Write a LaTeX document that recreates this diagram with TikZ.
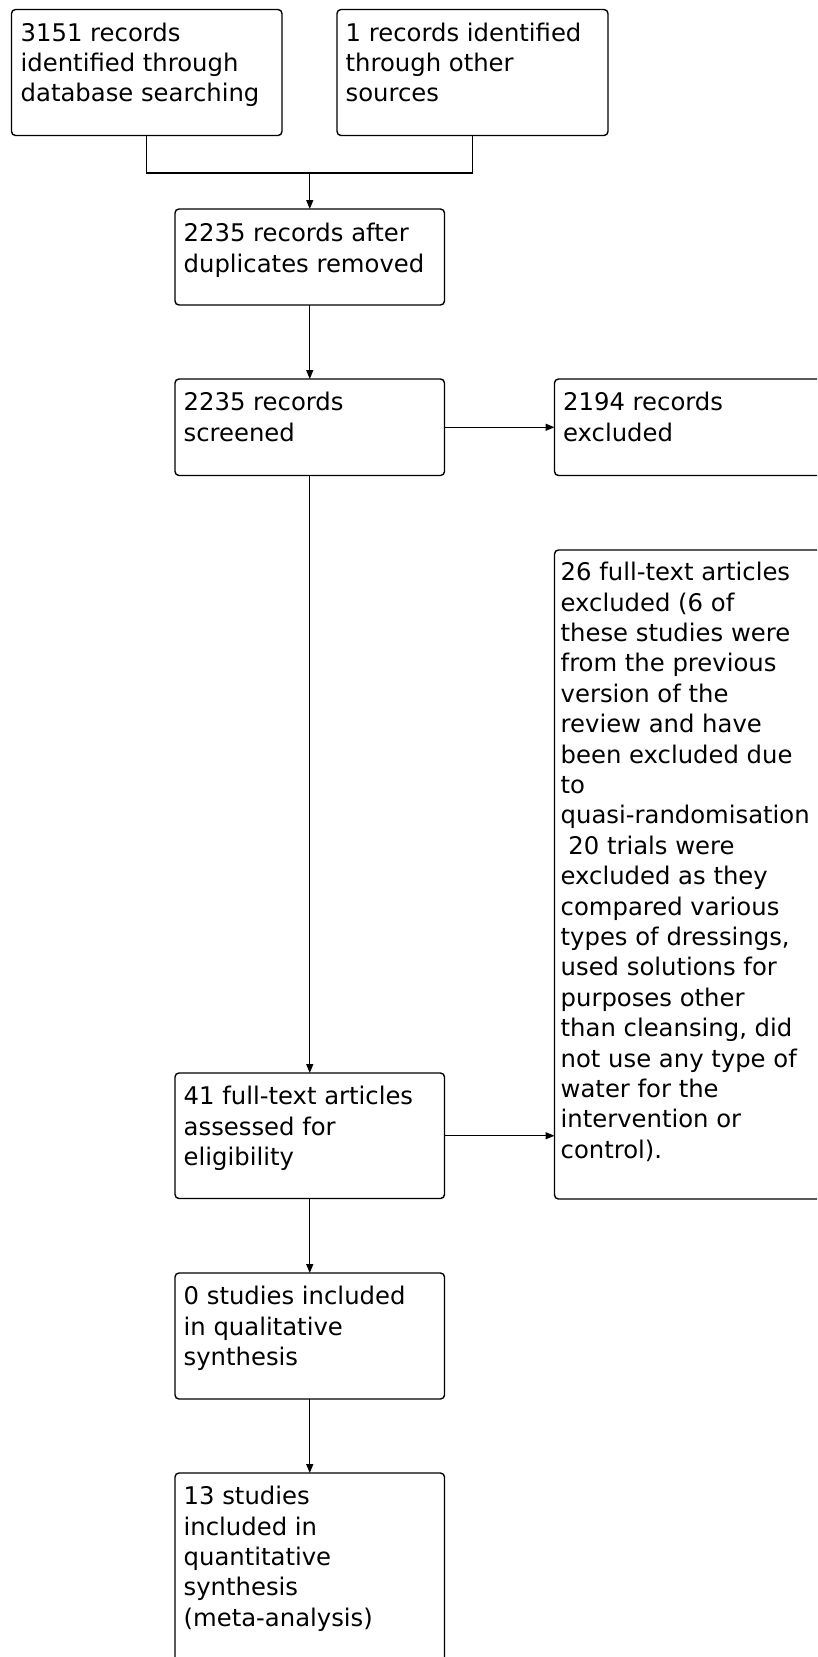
\documentclass[tikz,border=0pt]{standalone}
\usepackage{fontspec}
\setmainfont{DejaVu Sans}
\usetikzlibrary{arrows.meta,calc}
\begin{document}
\begin{tikzpicture}[x=1pt,y=-1pt,
  box/.style={draw, rounded corners=4pt, line width=1.4pt, inner sep=0pt, outer sep=0pt, anchor=north west},
  txt/.style={anchor=north west, inner sep=0pt, align=left, font=\fontsize{24.3}{30.4}\selectfont},
  arr/.style={-{Triangle[length=9pt,width=7pt]}, line width=1.4pt},
  link/.style={line width=1.4pt}]
\useasboundingbox (0,0) rectangle (817,1657);
\clip (0,0) rectangle (817,1657);
\fill[white] (0,0) rectangle (817,1657);
% boxes
\node[box, minimum width=270.5pt, minimum height=126pt] (b1) at (11.5,9.5) {};
\node[box, minimum width=271pt, minimum height=126pt] (b2) at (337,9.5) {};
\node[box, minimum width=269.5pt, minimum height=96pt] (b3) at (175,209) {};
\node[box, minimum width=269.5pt, minimum height=96.5pt] (b4) at (175,379) {};
\node[box, minimum width=270.5pt, minimum height=96.5pt] (b5) at (554.5,379) {};
\node[box, minimum width=270.5pt, minimum height=649pt] (b6) at (554.5,550) {};
\node[box, minimum width=269.5pt, minimum height=125.5pt] (b7) at (175,1073) {};
\node[box, minimum width=269.5pt, minimum height=126pt] (b8) at (175,1273) {};
\node[box, minimum width=269.5pt, minimum height=217pt] (b9) at (175,1473) {};
% texts
\node[txt] (t1) at ($(b1.north west)+(9,13)$) {3151 records\\identified through\\database searching};
\node[txt] (t2) at ($(b2.north west)+(8.5,13)$) {1 records identified\\through other\\sources};
\node[txt] (t3) at ($(b3.north west)+(8.5,14)$) {2235 records after\\duplicates removed};
\node[txt] (t4) at ($(b4.north west)+(8.5,13)$) {2235 records\\screened};
\node[txt] (t5) at ($(b5.north west)+(8.5,13)$) {2194 records\\excluded};
\node[txt] (t6) at ($(b6.north west)+(6,12)$) {26 full-text articles\\excluded (6 of\\these studies were\\from the previous\\version of the\\review and have\\been excluded due\\to\\quasi-randomisation\\\ 20 trials were\\excluded as they\\compared various\\types of dressings,\\used solutions for\\purposes other\\than cleansing, did\\not use any type of\\water for the\\intervention or\\control).};
\node[txt] (t7) at ($(b7.north west)+(8.5,13)$) {41 full-text articles\\assessed for\\eligibility};
\node[txt] (t8) at ($(b8.north west)+(8.5,13)$) {0 studies included\\in qualitative\\synthesis};
\node[txt] (t9) at ($(b9.north west)+(8.5,13)$) {13 studies\\included in\\quantitative\\synthesis\\(meta-analysis)};
% connectors
\coordinate (j) at (309.75,173);
\draw[link] (b1.south) |- (j) -| (b2.south);
\draw[arr] (j) -- (b3.north);
\draw[arr] (b3.south) -- (b4.north);
\draw[arr] (b4.east) -- (b4.east -| b5.west);
\draw[arr] (b4.south) -- (b7.north);
\draw[arr] (b7.east) -- (b7.east -| b6.west);
\draw[arr] (b7.south) -- (b8.north);
\draw[arr] (b8.south) -- (b9.north);
\end{tikzpicture}
\end{document}
